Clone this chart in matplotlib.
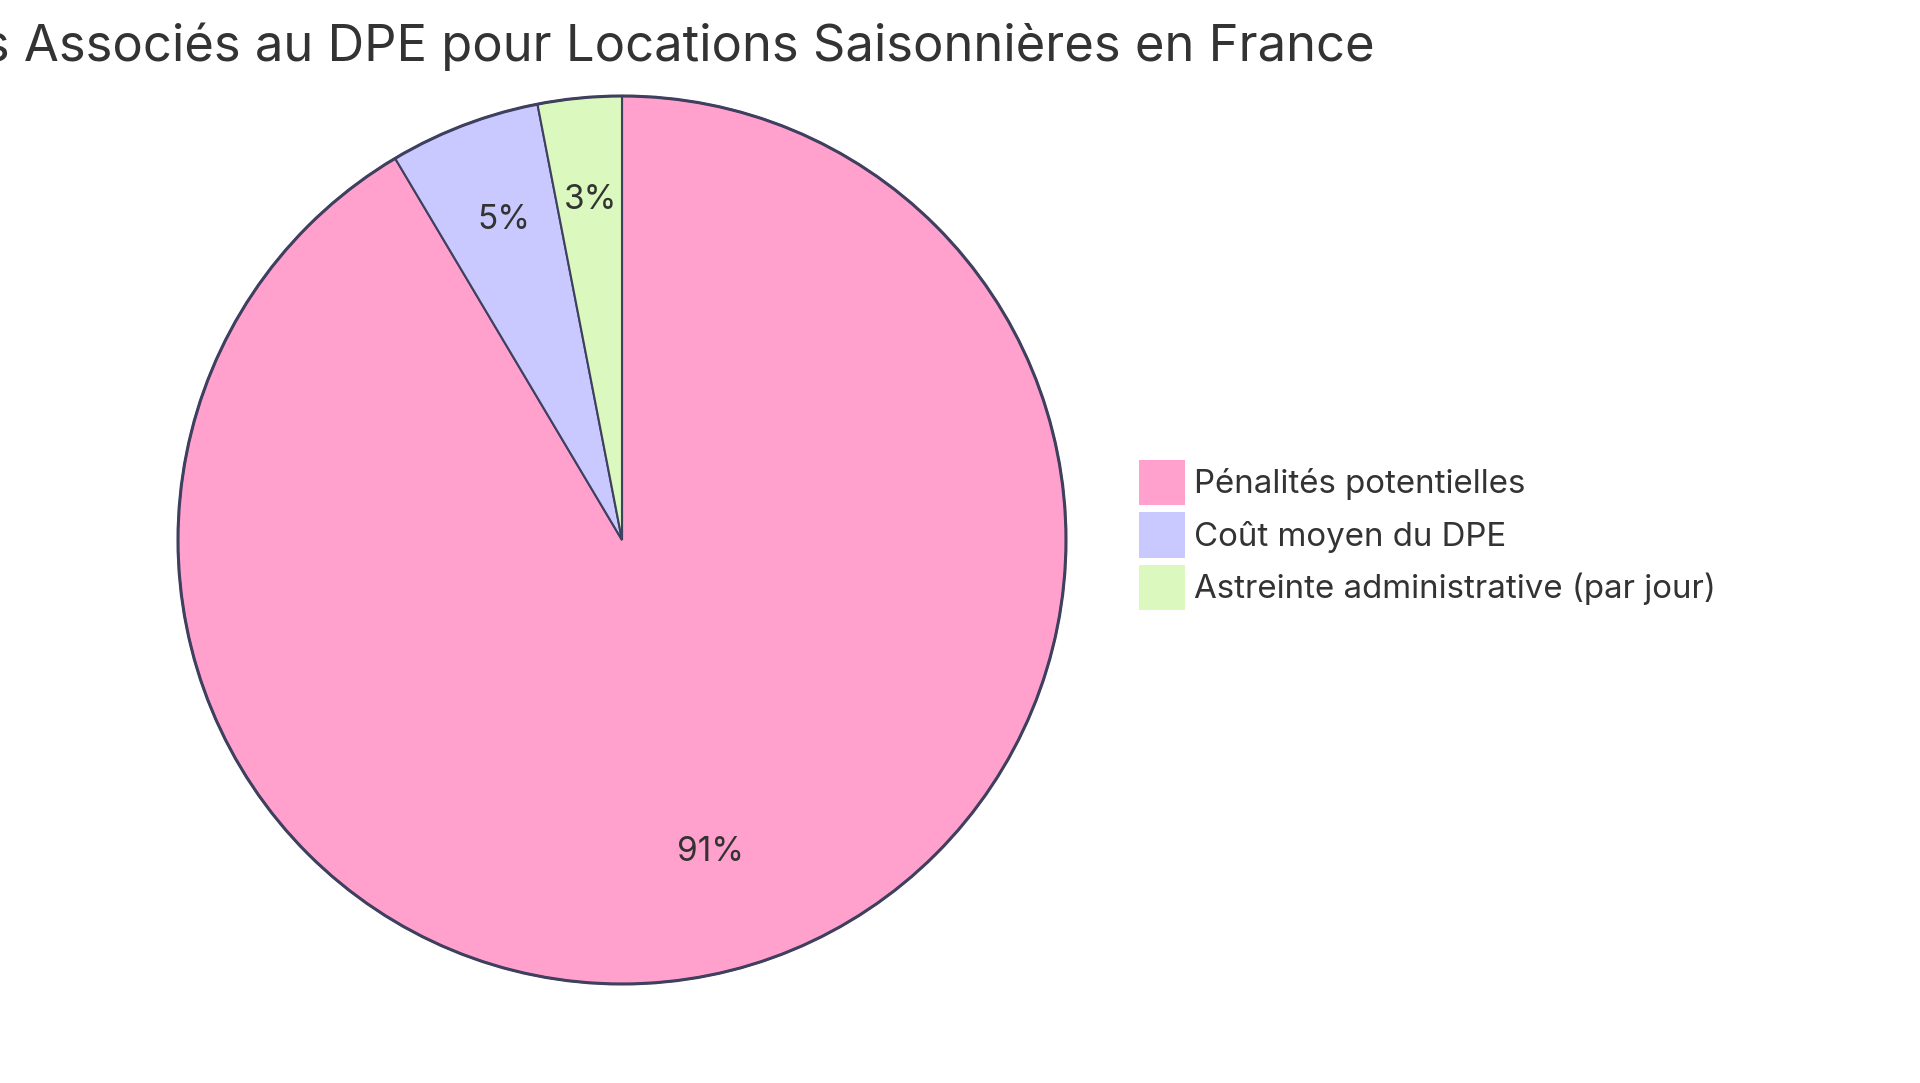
import matplotlib
matplotlib.use("Agg")
import matplotlib.pyplot as plt
from matplotlib.patches import Patch, Circle

title = "Coûts Associés au DPE pour Locations Saisonnières en France"
labels = ["Pénalités potentielles", "Coût moyen du DPE", "Astreinte administrative (par jour)"]
values = [1500, 90, 50]
colors = ["#FFA1CC", "#C9C9FF", "#DBF9BE"]
edge = "#3F3F5F"
text_color = "#333333"

plt.rcParams['font.family'] = ['Inter', 'DejaVu Sans']

W, H = 1920, 1083
fig = plt.figure(figsize=(W / 100, H / 100), dpi=100)
ax = fig.add_axes([0, 0, 1, 1])

cx, cy, r = 622, H - 540, 444

wedges, texts, autotexts = ax.pie(
    values, colors=colors, startangle=90, counterclock=False,
    center=(cx, cy), radius=r, autopct=lambda p: f"{p:.0f}%",
    pctdistance=0.75, frame=True,
    wedgeprops=dict(edgecolor=edge, linewidth=1.5),
    textprops=dict(fontsize=24, color=text_color))
for t in autotexts:
    t.set_va('baseline')
ax.set_xlim(0, W)
ax.set_ylim(0, H)
ax.axis('off')
ax.add_patch(Circle((cx, cy), r, fill=False, edgecolor=edge, linewidth=2.2, zorder=5))

ax.text(cx, H - 61, title, ha='center', va='baseline', fontsize=36.5,
        color=text_color)

handles = [Patch(facecolor=c, edgecolor='none') for c in colors]
leg = ax.legend(handles, labels, loc='center left',
                bbox_to_anchor=(1139 / W, (H - 535) / H),
                frameon=False, fontsize=23.8, handlelength=1.4, handleheight=1.73,
                labelspacing=0.22, handletextpad=0.27, borderpad=0,
                borderaxespad=0)
for t in leg.get_texts():
    t.set_color(text_color)

fig.savefig("out.png", dpi=100, facecolor='white')
